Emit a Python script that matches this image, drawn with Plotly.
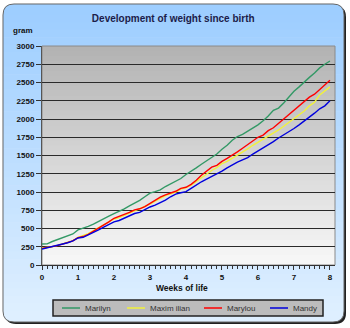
import plotly.graph_objects as go

# ---------------- data (daily weights, grams) ----------------
days = list(range(57))
weeks = [d / 7 for d in days]

marilyn = [288, 290, 322, 350, 372, 398, 425, 480, 500, 530, 560, 600, 630, 670, 705,
           735, 770, 810, 845, 885, 935, 985, 1005, 1030, 1075, 1115, 1150, 1185, 1240,
           1280, 1330, 1380, 1430, 1480, 1520, 1585, 1640, 1710, 1760, 1790, 1830, 1875, 1920,
           1975, 2040, 2120, 2150, 2220, 2300, 2380, 2440, 2510, 2570, 2630, 2700, 2750, 2795]
maximilian = [232, 240, 250, 268, 288, 308, 335, 380, 400, 430, 470, 510, 555, 595, 630,
              650, 680, 710, 745, 765, 795, 835, 875, 915, 950, 975, 1000, 1040, 1060,
              1095, 1145, 1200, 1250, 1295, 1335, 1390, 1420, 1460, 1505, 1545, 1590, 1640, 1680,
              1720, 1770, 1810, 1850, 1900, 1950, 2000, 2050, 2110, 2180, 2230, 2330, 2390, 2440]
marylou = [228, 238, 250, 265, 285, 305, 330, 375, 390, 420, 460, 500, 550, 590, 640,
           665, 690, 720, 755, 770, 800, 845, 885, 930, 960, 985, 1010, 1050, 1065,
           1105, 1160, 1230, 1290, 1340, 1365, 1420, 1460, 1500, 1550, 1600, 1650, 1700, 1750,
           1780, 1840, 1880, 1940, 1990, 2050, 2120, 2170, 2230, 2300, 2340, 2400, 2470, 2530]
mandy = [218, 235, 250, 262, 285, 305, 330, 370, 380, 410, 445, 480, 520, 555, 590,
         610, 640, 680, 705, 720, 760, 795, 820, 850, 890, 935, 970, 990, 1005,
         1050, 1100, 1140, 1175, 1210, 1250, 1285, 1330, 1375, 1410, 1440, 1470, 1520, 1560,
         1600, 1640, 1690, 1740, 1780, 1830, 1870, 1920, 1970, 2030, 2080, 2140, 2180, 2250]

series_names = ["Marilyn", "Maximilian", "Marylou", "Mandy"]
series_values = [marilyn, maximilian, marylou, mandy]
series_colors = ["#339966", "#f2f23a", "#ff0000", "#0000dd"]
legend_labels = ["Marilyn", "Maxim ilian", "Marylou", "Mandy"]

week_ticks = list(range(9))
gram_ticks = list(range(0, 3001, 250))

# ---------------- geometry ----------------
W, H = 350, 328
L, R, T, B = 42, 15, 46, 63
pw, ph = W - L - R, H - T - B


def px(x):
    return (x - L) / pw


def py(y):
    return (H - B - y) / ph


def lerp(c0, c1, t):
    return "rgb(%d,%d,%d)" % tuple(round(a + (b - a) * t) for a, b in zip(c0, c1))


def rr_path(x0, y0, x1, y1, r, top=True, bottom=True):
    pts = []
    if top:
        pts.append("M%f,%f" % (px(x0), py(y0 + r)))
        pts.append("Q%f,%f %f,%f" % (px(x0), py(y0), px(x0 + r), py(y0)))
        pts.append("L%f,%f" % (px(x1 - r), py(y0)))
        pts.append("Q%f,%f %f,%f" % (px(x1), py(y0), px(x1), py(y0 + r)))
    else:
        pts.append("M%f,%f" % (px(x0), py(y0)))
        pts.append("L%f,%f" % (px(x1), py(y0)))
    if bottom:
        pts.append("L%f,%f" % (px(x1), py(y1 - r)))
        pts.append("Q%f,%f %f,%f" % (px(x1), py(y1), px(x1 - r), py(y1)))
        pts.append("L%f,%f" % (px(x0 + r), py(y1)))
        pts.append("Q%f,%f %f,%f" % (px(x0), py(y1), px(x0), py(y1 - r)))
    else:
        pts.append("L%f,%f" % (px(x1), py(y1)))
        pts.append("L%f,%f" % (px(x0), py(y1)))
    pts.append("Z")
    return " ".join(pts)


shapes = []
# outer frame with shadow
fx0, fy0, fx1, fy1, rad = 3, 4, 344, 322, 11
shapes.append(dict(type="path", path=rr_path(fx0 + 2, fy0 + 2, fx1 + 2, fy1 + 2, rad),
                   xref="paper", yref="paper", fillcolor="#222222", line=dict(width=0), layer="below"))
ptop, pbot = (158, 206, 255), (222, 239, 255)
shapes.append(dict(type="path", path=rr_path(fx0, fy0, fx1, fy1, rad),
                   xref="paper", yref="paper", fillcolor=lerp(ptop, pbot, 1), line=dict(width=0), layer="below"))
shapes.append(dict(type="path", path=rr_path(fx0, fy0, fx1, fy0 + rad + 1, rad, top=True, bottom=False),
                   xref="paper", yref="paper", fillcolor=lerp(ptop, pbot, 0), line=dict(width=0), layer="below"))
n = 40
y_a, y_b = fy0 + rad, fy1 - rad
for i in range(n):
    ya = y_a + (y_b - y_a) * i / n
    yb = y_a + (y_b - y_a) * (i + 1) / n + 0.6
    shapes.append(dict(type="rect", xref="paper", yref="paper", x0=px(fx0), x1=px(fx1),
                       y0=py(ya), y1=py(yb), fillcolor=lerp(ptop, pbot, (i + 0.5) / n),
                       line=dict(width=0), layer="below"))
shapes.append(dict(type="path", path=rr_path(fx0, fy0, fx1, fy1, rad),
                   xref="paper", yref="paper", fillcolor="rgba(0,0,0,0)",
                   line=dict(width=1, color="#666666"), layer="below"))
# plot area gradient
gtop, gbot = (178, 178, 178), (248, 248, 248)
n = 44
for i in range(n):
    shapes.append(dict(type="rect", xref="paper", yref="paper", x0=0, x1=1,
                       y0=1 - i / n, y1=max(0, 1 - (i + 1) / n - 0.004),
                       fillcolor=lerp(gtop, gbot, (i + 0.5) / n), line=dict(width=0), layer="below"))
shapes.append(dict(type="rect", xref="paper", yref="paper", x0=0, x1=1, y0=0, y1=1,
                   fillcolor="rgba(0,0,0,0)", line=dict(width=1, color="#8a8a8a"), layer="below"))

FONT = "Liberation Sans, Arial, sans-serif"

# legend box (drawn as a framed strip below the axis)
lg_x0, lg_x1, lg_y0, lg_y1 = 53, 323, 300, 316
shapes.append(dict(type="rect", xref="paper", yref="paper", x0=px(lg_x0), x1=px(lg_x1),
                   y0=py(lg_y0), y1=py(lg_y1), fillcolor="#bcbcbc",
                   line=dict(width=1.5, color="#222222"), layer="above"))
legend_line_x = [62, 127, 204, 270]
annotations = []
for lx, col, lab in zip(legend_line_x, series_colors, legend_labels):
    shapes.append(dict(type="line", xref="paper", yref="paper", x0=px(lx), x1=px(lx + 18),
                       y0=py(308), y1=py(308), line=dict(color=col, width=1.5), layer="above"))
    annotations.append(dict(text=lab, xref="paper", yref="paper", x=px(lx + 21), y=py(308.5),
                            showarrow=False, xanchor="left", yanchor="middle",
                            font=dict(family=FONT, size=8, color="#333")))

fig = go.Figure()
for name, vals, col, lab in zip(series_names, series_values, series_colors, legend_labels):
    fig.add_trace(go.Scatter(x=weeks, y=vals, name=lab, mode="lines",
                             line=dict(color=col, width=1.4), hoverinfo="skip"))

annotations += [
    dict(text="gram", xref="paper", yref="paper", x=px(23), y=py(30), showarrow=False,
         xanchor="center", yanchor="middle",
         font=dict(family=FONT, size=8, color="#111", weight="bold")),
    dict(text="Weeks of life", xref="paper", yref="paper", x=px(182), y=py(288), showarrow=False,
         xanchor="center", yanchor="middle",
         font=dict(family=FONT, size=8.5, color="#111", weight="bold")),
]

fig.update_layout(
    width=W, height=H,
    margin=dict(l=L, r=R, t=T, b=B, pad=0, autoexpand=False),
    paper_bgcolor="white",
    plot_bgcolor="rgba(0,0,0,0)",
    shapes=shapes,
    title=dict(text="Development of weight since birth", x=0.495, xanchor="center",
               y=1 - 18 / H, yanchor="middle", xref="container", yref="container",
               font=dict(family=FONT, size=10, color="#1c1c4a", weight="bold")),
    xaxis=dict(range=[0, 8.14], tickmode="array", tickvals=week_ticks,
               ticktext=[str(t) for t in week_ticks],
               ticks="outside", ticklen=4, tickwidth=1, tickcolor="#333",
               minor=dict(dtick=1 / 7, tick0=0, ticks="outside", ticklen=3, tickcolor="#333", showgrid=False),
               showgrid=False, zeroline=False, showline=True, linecolor="#333", linewidth=1,
               tickfont=dict(family=FONT, size=8, color="#111", weight="bold"), fixedrange=True),
    yaxis=dict(range=[0, 3000], tickmode="array", tickvals=gram_ticks,
               ticktext=[str(t) for t in gram_ticks],
               ticks="outside", ticklen=5, tickwidth=1, tickcolor="#333",
               showgrid=True, gridcolor="#2a2a2a", gridwidth=1, zeroline=False,
               showline=True, linecolor="#555", linewidth=1,
               tickfont=dict(family=FONT, size=8, color="#111", weight="bold"), fixedrange=True),
    showlegend=False,
    annotations=annotations,
)

fig.write_html("out.html", config={"displayModeBar": False})
